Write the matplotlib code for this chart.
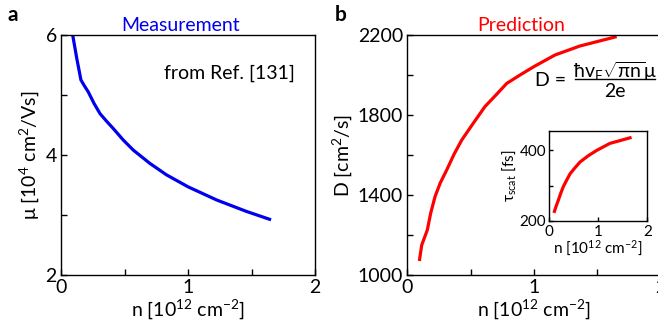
import matplotlib
matplotlib.use("Agg")
import matplotlib.pyplot as plt
from matplotlib.ticker import FixedLocator, FixedFormatter
from matplotlib.lines import Line2D

plt.rcParams['font.family'] = ['Lato', 'DejaVu Sans']
plt.rcParams['mathtext.fontset'] = 'custom'
plt.rcParams['mathtext.rm'] = 'Lato'
plt.rcParams['mathtext.it'] = 'Lato:italic'

# Panel a: measured mobility
n_mu = [0.092, 0.125, 0.157, 0.185, 0.215, 0.26, 0.307, 0.36, 0.412, 0.49, 0.57, 0.70, 0.83, 1.0, 1.226, 1.46, 1.654]
mu = [6.0, 5.6, 5.25, 5.15, 5.05, 4.86, 4.69, 4.56, 4.44, 4.25, 4.08, 3.86, 3.67, 3.47, 3.25, 3.06, 2.92]

# Panel b: predicted diffusion coefficient
n_D = [0.095, 0.114, 0.158, 0.185, 0.219, 0.26, 0.311, 0.37, 0.43, 0.52, 0.613, 0.70, 0.785, 0.89, 1.0, 1.166, 1.363, 1.653]
D = [1070, 1150, 1225, 1310, 1392, 1460, 1525, 1605, 1675, 1758, 1842, 1900, 1958, 2000, 2042, 2100, 2145, 2192]

# Inset: scattering time
n_tau = [0.10, 0.14, 0.19, 0.24, 0.29, 0.36, 0.43, 0.53, 0.63, 0.80, 0.97, 1.24, 1.45, 1.68]
tau = [223, 240, 259, 279, 297, 316, 334, 351, 367, 385, 400, 420, 428, 437]

fig = plt.figure(figsize=(6.58, 3.25), dpi=100)
FS = 14
LW = 2.3

def style(ax, fs, xmaj, xlabels, ymaj, ylabels):
    for s in ax.spines.values():
        s.set_linewidth(1.0)
    ax.tick_params(direction='in', length=4, width=1.0, labelsize=fs, pad=3)
    ax.xaxis.set_major_locator(FixedLocator(xmaj))
    ax.xaxis.set_major_formatter(FixedFormatter(xlabels))
    ax.yaxis.set_major_locator(FixedLocator(ymaj))
    ax.yaxis.set_major_formatter(FixedFormatter(ylabels))

xt = [0, 0.5, 1, 1.5, 2]
xtl = ['0', '', '1', '', '2']

# Panel a
ax1 = fig.add_axes([61/658, 50/325, 254/658, 240/325])
ax1.plot(n_mu, mu, color='#0000ee', lw=LW, solid_capstyle='butt')
ax1.set_xlim(0, 2)
ax1.set_ylim(2, 6)
style(ax1, FS, xt, xtl, [2, 3, 4, 5, 6], ['2', '', '4', '', '6'])
ax1.set_xlabel(r'n [10$^{12}$ cm$^{-2}$]', fontsize=FS, labelpad=1)
ax1.set_ylabel(r'μ [10$^{4}$ cm$^{2}$/Vs]', fontsize=FS, labelpad=3)
ax1.set_title('Measurement', color='#0000ee', fontsize=FS, pad=3, x=0.47)
ax1.text(0.92, 0.84, 'from Ref. [131]', transform=ax1.transAxes, ha='right', va='center', fontsize=FS)
fig.text(8/658, 1 - 15/325, 'a', fontsize=15, fontweight='bold', va='center', ha='left')

# Panel b
ax2 = fig.add_axes([407.3/658, 50/325, 253.3/658, 240/325])
ax2.plot(n_D, D, color='#ff0000', lw=LW, solid_capstyle='butt')
ax2.set_xlim(0, 2)
ax2.set_ylim(1000, 2200)
style(ax2, FS, xt, xtl, [1000, 1200, 1400, 1600, 1800, 2000, 2200],
      ['1000', '', '1400', '', '1800', '', '2200'])
ax2.set_xlabel(r'n [10$^{12}$ cm$^{-2}$]', fontsize=FS, labelpad=1)
ax2.set_ylabel(r'D [cm$^{2}$/s]', fontsize=FS, labelpad=3)
ax2.set_title('Prediction', color='#ff0000', fontsize=FS, pad=3, x=0.45)
fig.text(335/658, 1 - 15/325, 'b', fontsize=15, fontweight='bold', va='center', ha='left')

# Equation
fig.text(571/658, 1 - 81/325, 'D = ', fontsize=FS, ha='right', va='center')
fig.text(615/658, 1 - 71/325, r'ħv$_{\mathrm{F}}\sqrt{\mathrm{\pi n}}$μ', fontsize=FS, ha='center', va='center')
fig.text(615/658, 1 - 92/325, '2e', fontsize=FS, ha='center', va='center')
fig.add_artist(Line2D([575/658, 655/658], [1 - 79/325, 1 - 79/325], transform=fig.transFigure,
                      color='black', lw=1.0))

# Inset
ax3 = fig.add_axes([549/658, 104/325, 98.3/658, 90/325])
ax3.plot(n_tau, tau, color='#ff0000', lw=LW, solid_capstyle='butt')
ax3.set_xlim(0, 2)
ax3.set_ylim(200, 455)
style(ax3, 11, [0, 1, 2], ['0', '1', '2'], [200, 300, 400], ['200', '', '400'])
ax3.tick_params(length=3)
ax3.tick_params(axis='x', pad=3)
ax3.tick_params(axis='y', pad=2)
ax3.set_xlabel(r'n [10$^{12}$ cm$^{-2}$]', fontsize=11, labelpad=0)
ax3.set_ylabel(r'τ$_{\mathrm{scat}}$ [fs]', fontsize=11, labelpad=1)

fig.savefig('out.png', dpi=100)
